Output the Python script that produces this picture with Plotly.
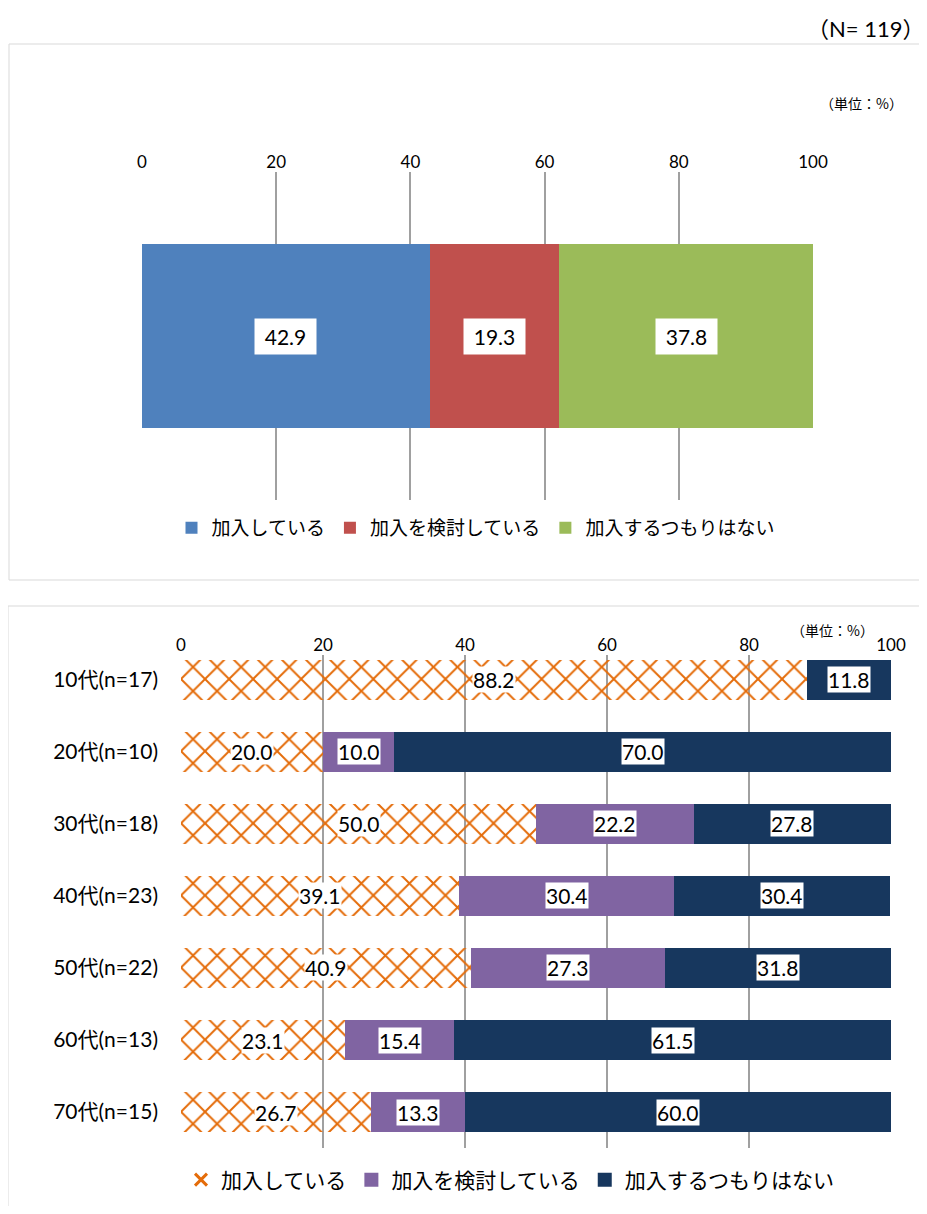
import plotly.graph_objects as go

# page body has an 8px margin -> map reference pixels by subtracting 8
OFF = 8
W, H = 927 - OFF, 1214 - 2 * OFF

# ---- data ----
top_series = ["加入している", "加入を検討している", "加入するつもりはない"]
top_values = [42.9, 19.3, 37.8]
top_colors = ["#4F81BD", "#C0504D", "#9BBB59"]

age_groups = ["10代(n=17)", "20代(n=10)", "30代(n=18)", "40代(n=23)",
              "50代(n=22)", "60代(n=13)", "70代(n=15)"]
joined = [88.2, 20.0, 50.0, 39.1, 40.9, 23.1, 26.7]
considering = [0.0, 10.0, 22.2, 30.4, 27.3, 15.4, 13.3]
not_planning = [11.8, 70.0, 27.8, 30.4, 31.8, 61.5, 60.0]
bottom_series = ["加入している", "加入を検討している", "加入するつもりはない"]
orange = "#E46C0A"
purple = "#8064A2"
navy = "#17375E"

x_ticks = [0, 20, 40, 60, 80, 100]

FONT = "Lato, Noto Sans CJK JP, sans-serif"
JFONT = "Noto Sans CJK JP, sans-serif"


def fx(p):
    return (p - OFF) / W


def fy(p):
    return 1 - (p - OFF) / H


fig = go.Figure()

# ---- top chart ----
for name, val, col in zip(top_series, top_values, top_colors):
    fig.add_trace(go.Bar(
        x=[val], y=["全体"], orientation="h", name=name,
        marker=dict(color=col, line=dict(width=0)), width=0.561,
        xaxis="x", yaxis="y", legend="legend", showlegend=True,
        hoverinfo="skip"))

# ---- bottom chart ----
bottom_data = [joined, considering, not_planning]
fig.add_trace(go.Bar(
    x=joined, y=age_groups, orientation="h", name=bottom_series[0],
    marker=dict(color="rgba(0,0,0,0)", line=dict(width=0),
                pattern=dict(shape="x", fgcolor=orange, bgcolor="rgba(0,0,0,0)",
                             fgopacity=1, size=17, solidity=0.22,
                             fillmode="overlay")),
    width=0.556, xaxis="x2", yaxis="y2", showlegend=False, hoverinfo="skip"))
fig.add_trace(go.Bar(
    x=considering, y=age_groups, orientation="h", name=bottom_series[1],
    marker=dict(color=purple, line=dict(width=0)), width=0.556,
    xaxis="x2", yaxis="y2", showlegend=False, hoverinfo="skip"))
fig.add_trace(go.Bar(
    x=not_planning, y=age_groups, orientation="h", name=bottom_series[2],
    marker=dict(color=navy, line=dict(width=0)), width=0.556,
    xaxis="x2", yaxis="y2", showlegend=False, hoverinfo="skip"))

# legend proxies for bottom chart
fig.add_trace(go.Scatter(
    x=[None], y=[None], mode="markers", name=bottom_series[0],
    marker=dict(symbol="x-thin", size=12, line=dict(color=orange, width=3), color=orange),
    xaxis="x2", yaxis="y2", legend="legend2"))
fig.add_trace(go.Scatter(
    x=[None], y=[None], mode="markers", name=bottom_series[1],
    marker=dict(symbol="square", size=14, color=purple),
    xaxis="x2", yaxis="y2", legend="legend2"))
fig.add_trace(go.Scatter(
    x=[None], y=[None], mode="markers", name=bottom_series[2],
    marker=dict(symbol="square", size=14, color=navy),
    xaxis="x2", yaxis="y2", legend="legend2"))

annotations = []
# top labels
cum = 0
for v in top_values:
    annotations.append(dict(
        x=cum + v / 2, y="全体", xref="x", yref="y", text=f"{v:.1f}",
        showarrow=False, font=dict(size=21, color="black", family=FONT),
        bgcolor="white", borderpad=0, width=61, height=35))
    cum += v

# bottom labels
for i, cat in enumerate(age_groups):
    cum = 0
    for series in bottom_data:
        v = series[i]
        if v > 0:
            annotations.append(dict(
                x=cum + v / 2, y=cat, xref="x2", yref="y2", text=f"{v:.1f}",
                showarrow=False, font=dict(size=21, color="black", family=FONT),
                bgcolor="white", borderpad=0))
        cum += v

annotations += [
    dict(x=fx(926), y=fy(28), xref="paper", yref="paper", text="（N= 119）",
         showarrow=False, xanchor="right", yanchor="middle",
         font=dict(size=22, color="black", family=FONT)),
    dict(x=fx(861), y=fy(103), xref="paper", yref="paper", text="（単位：%）",
         showarrow=False, xanchor="center", yanchor="middle",
         font=dict(size=14, color="black", family=JFONT)),
    dict(x=fx(832), y=fy(630), xref="paper", yref="paper", text="（単位：%）",
         showarrow=False, xanchor="center", yanchor="middle",
         font=dict(size=14, color="black", family=JFONT)),
]

shapes = [
    dict(type="rect", xref="paper", yref="paper", x0=fx(9), x1=fx(924),
         y0=fy(580), y1=fy(44), line=dict(color="#D9D9D9", width=1), layer="below"),
    dict(type="rect", xref="paper", yref="paper", x0=fx(8), x1=1.05,
         y0=-0.05, y1=fy(606), line=dict(color="#D9D9D9", width=1), layer="below"),
]

axis_common = dict(range=[0, 100], tickvals=x_ticks, side="top", showgrid=True,
                   gridcolor="#A0A0A0", gridwidth=1.5, zeroline=False,
                   showline=False, ticks="", fixedrange=True,
                   tickfont=dict(size=17, color="black", family=FONT))

fig.update_layout(
    width=W, height=H,
    margin=dict(l=0, r=0, t=0, b=0, autoexpand=False),
    paper_bgcolor="white", plot_bgcolor="white",
    font=dict(family=FONT, color="black"),
    barmode="stack",
    xaxis=dict(domain=[fx(142), fx(813)], anchor="y", **axis_common),
    yaxis=dict(domain=[fy(500), fy(172)], anchor="x", range=[-0.5, 0.5],
               visible=False, fixedrange=True),
    xaxis2=dict(domain=[fx(181), fx(891)], anchor="y2", **axis_common),
    yaxis2=dict(domain=[fy(1148), fy(655)], anchor="x2", range=[6.5, -0.347],
                type="category", categoryorder="array", categoryarray=age_groups,
                showgrid=False, zeroline=False, showline=False, ticks="",
                ticklabelstandoff=22, fixedrange=True,
                tickfont=dict(size=21, color="black", family=FONT)),
    legend=dict(orientation="h", x=fx(476), y=fy(528), xanchor="center",
                yanchor="middle", font=dict(size=19, color="black", family=JFONT),
                bgcolor="rgba(0,0,0,0)", traceorder="normal", itemclick=False,
                itemwidth=30),
    legend2=dict(orientation="h", x=fx(510), y=fy(1180), xanchor="center",
                 yanchor="middle", font=dict(size=21, color="black", family=JFONT),
                 bgcolor="rgba(0,0,0,0)", traceorder="normal", itemclick=False,
                 itemwidth=30),
    annotations=annotations,
    shapes=shapes,
    showlegend=True,
)

fig.write_html("out.html")
